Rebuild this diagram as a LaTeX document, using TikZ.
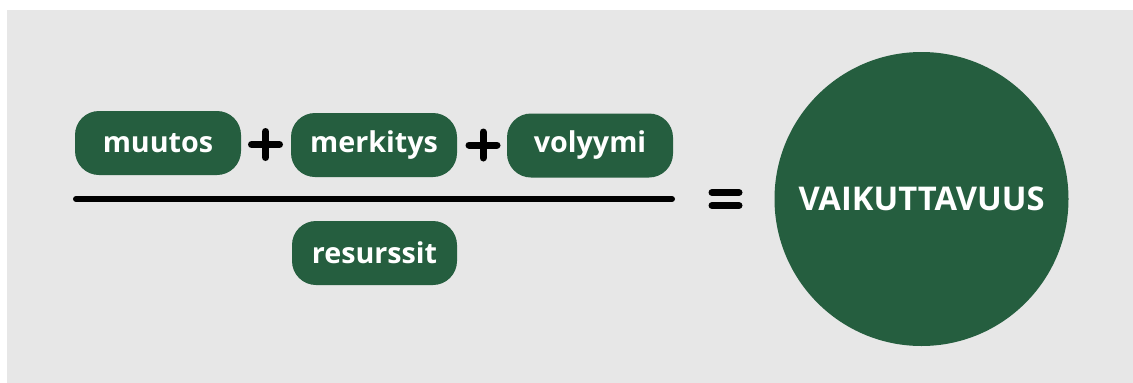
\documentclass[tikz,border=0pt]{standalone}
\usepackage{fontspec}
\setmainfont{Open Sans}
\definecolor{bggray}{HTML}{E7E7E7}
\definecolor{dkgreen}{HTML}{255E3F}
\begin{document}
\begin{tikzpicture}[x=1pt,y=-1pt,
  pill/.style={fill=dkgreen, rounded corners=24pt, text=white, font=\fontsize{28.7}{32}\selectfont\bfseries,
    minimum width=166pt, minimum height=64pt, inner sep=0pt},
  bigdot/.style={circle, fill=dkgreen, text=white, font=\fontsize{32.7}{36}\selectfont\bfseries,
    minimum size=294pt, inner sep=0pt},
  opline/.style={line width=7pt, line cap=round, black},
  barline/.style={line width=6pt, line cap=round, black}]
\useasboundingbox (0,0) rectangle (1133,383);
\fill[bggray] (7,10) rectangle (1133,383);
\node[pill] (muutos) at (158,143) {muutos};
\node[pill] (merkitys) at (374,145) {merkitys};
\node[pill] (volyymi) at (590,145.5) {volyymi};
\node[pill, minimum width=165pt] (resurssit) at (374.5,253) {resurssit};
\node[bigdot] (vaik) at (921.5,199) {VAIKUTTAVUUS};
% plus signs
\coordinate (p1) at (265.5,144.5);
\coordinate (p2) at (483,145);
\foreach \p in {p1,p2}{
  \draw[opline] ([xshift=-14pt]\p) -- ([xshift=14pt]\p);
  \draw[opline] ([yshift=-13pt]\p) -- ([yshift=13pt]\p);
}
% fraction bar
\coordinate (fa) at (76,199);
\coordinate (fb) at (672,199);
\draw[barline] (fa) -- (fb);
% equals
\coordinate (e1) at (712,192.5);
\coordinate (e2) at (739,192.5);
\coordinate (e3) at (712,205.5);
\coordinate (e4) at (739,205.5);
\draw[opline] (e1) -- (e2);
\draw[opline] (e3) -- (e4);
\end{tikzpicture}
\end{document}
